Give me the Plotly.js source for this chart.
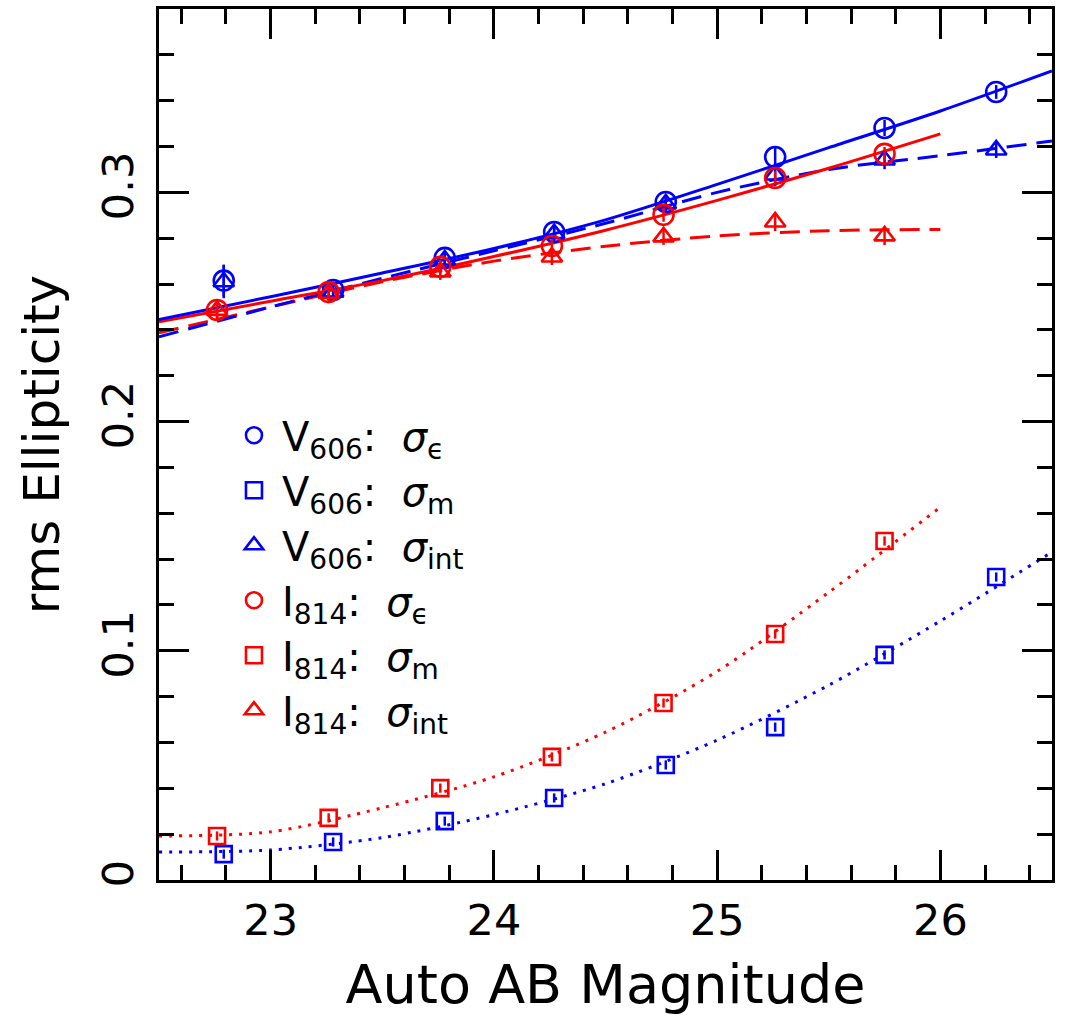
<!DOCTYPE html>
<html>
<head>
<meta charset="utf-8">
<script src="https://cdn.plot.ly/plotly-3.0.1.min.js"></script>
<style>html,body{margin:0;padding:0;background:#fff;}#chart{width:1065px;height:1016px;}</style>
</head>
<body>
<div id="chart"></div>
<script>
// ---- data ----
var magV = [22.79, 23.28, 23.78, 24.27, 24.77, 25.26, 25.75, 26.25];
var magI = [22.76, 23.26, 23.76, 24.26, 24.76, 25.26, 25.75];

var vSigE   = [0.2615, 0.2574, 0.2714, 0.2827, 0.2958, 0.3154, 0.3281, 0.3438];
var vSigEerr= [0.0070, 0.0030, 0.0030, 0.0030, 0.0030, 0.0045, 0.0035, 0.0030];
var vSigM   = [0.0113, 0.0166, 0.0257, 0.0358, 0.0502, 0.0667, 0.0982, 0.1322];
var vSigMerr= [0.0020, 0.0020, 0.0020, 0.0020, 0.0020, 0.0020, 0.0020, 0.0020];
var vSigInt = [0.2610, 0.2565, 0.2705, 0.2820, 0.2950, 0.3076, 0.3141, 0.3185];
var vSigIerr= [0.0072, 0.0035, 0.0035, 0.0035, 0.0035, 0.0050, 0.0040, 0.0035];

var iSigE   = [0.2487, 0.2565, 0.2675, 0.2766, 0.2902, 0.3063, 0.3168];
var iSigEerr= [0.0040, 0.0030, 0.0030, 0.0030, 0.0030, 0.0030, 0.0030];
var iSigM   = [0.0192, 0.0271, 0.0401, 0.0537, 0.0772, 0.1073, 0.1479];
var iSigMerr= [0.0020, 0.0020, 0.0020, 0.0020, 0.0020, 0.0020, 0.0020];
var iSigInt = [0.2485, 0.2560, 0.2653, 0.2718, 0.2806, 0.2871, 0.2810];
var iSigIerr= [0.0040, 0.0035, 0.0035, 0.0035, 0.0035, 0.0040, 0.0040];

// fitted curves
var fitMagV = [22.5, 23.0, 23.5, 24.0, 24.5, 25.0, 25.5, 26.0, 26.5];
var fitMagI = [22.5, 23.0, 23.5, 24.0, 24.5, 25.0, 25.5, 26.0];
var fitVSigE   = [0.2445, 0.2545, 0.2648, 0.2755, 0.2880, 0.3035, 0.3195, 0.3355, 0.3530];
var fitVSigInt = [0.2370, 0.2500, 0.2625, 0.2745, 0.2865, 0.3000, 0.3100, 0.3160, 0.3224];
var fitVSigM   = [0.0122, 0.0131, 0.0185, 0.0285, 0.0420, 0.0610, 0.0850, 0.1130, 0.1431];
var fitISigE   = [0.2435, 0.2525, 0.2615, 0.2720, 0.2835, 0.2965, 0.3105, 0.3255];
var fitISigInt = [0.2387, 0.2500, 0.2610, 0.2700, 0.2765, 0.2810, 0.2833, 0.2838];
var fitISigM   = [0.0192, 0.0210, 0.0315, 0.0450, 0.0645, 0.0910, 0.1255, 0.1627];

var legendNames = [
  'V<sub>606</sub>:  <i>σ</i><sub>ϵ</sub>',
  'V<sub>606</sub>:  <i>σ</i><sub>m</sub>',
  'V<sub>606</sub>:  <i>σ</i><sub>int</sub>',
  'I<sub>814</sub>:  <i>σ</i><sub>ϵ</sub>',
  'I<sub>814</sub>:  <i>σ</i><sub>m</sub>',
  'I<sub>814</sub>:  <i>σ</i><sub>int</sub>'
];
var xTitle = 'Auto AB Magnitude';
var yTitle = 'rms Ellipticity';

var BLUE = '#0000ff', RED = '#ff0000';

function fit(x, y, color, dash) {
  return {x: x, y: y, type: 'scatter', mode: 'lines', showlegend: false, hoverinfo: 'skip',
    line: {color: color, width: 3, dash: dash, shape: 'spline', smoothing: 0.8}};
}
function pts(x, y, err, color, symbol, size, name) {
  return {x: x, y: y, type: 'scatter', mode: 'markers', name: name,
    error_y: {type: 'data', array: err, visible: true, color: color, thickness: 2.5, width: 0},
    marker: {symbol: symbol, size: size, color: color, line: {color: color, width: 2.6}}};
}

var traces = [
  fit(fitMagV, fitVSigM, BLUE, '3px,7px'),
  fit(fitMagI, fitISigM, RED, '3px,7px'),
  fit(fitMagI, fitISigInt, RED, '20px,10px'),
  fit(fitMagV, fitVSigInt, BLUE, '20px,10px'),
  fit(fitMagI, fitISigE, RED, 'solid'),
  fit(fitMagV, fitVSigE, BLUE, 'solid'),
  pts(magV, vSigE, vSigEerr, BLUE, 'circle-open', 20, legendNames[0]),
  pts(magV, vSigM, vSigMerr, BLUE, 'square-open', 16, legendNames[1]),
  pts(magV, vSigInt, vSigIerr, BLUE, 'triangle-up-open', 18, legendNames[2]),
  pts(magI, iSigE, iSigEerr, RED, 'circle-open', 20, legendNames[3]),
  pts(magI, iSigM, iSigMerr, RED, 'square-open', 16, legendNames[4]),
  pts(magI, iSigInt, iSigIerr, RED, 'triangle-up-open', 18, legendNames[5])
];

var FONT = 'DejaVu Sans, sans-serif';
var layout = {
  width: 1065, height: 1016,
  margin: {l: 159, r: 13, t: 9, b: 136},
  paper_bgcolor: '#fff', plot_bgcolor: '#fff',
  font: {family: FONT, color: '#000'},
  showlegend: true,
  legend: {x: 0.075, y: 0.548, xanchor: 'left', yanchor: 'top', bgcolor: 'rgba(0,0,0,0)',
    font: {family: FONT, size: 40, color: '#000'}, tracegroupgap: 0, itemwidth: 46},
  xaxis: {
    range: [22.5, 26.5], showgrid: false, zeroline: false,
    showline: true, linewidth: 3, linecolor: '#000', mirror: 'allticks',
    ticks: 'inside', ticklen: 30, tickwidth: 3, tickcolor: '#000',
    tick0: 0, dtick: 1,
    minor: {ticks: 'inside', dtick: 0.2, tick0: 0, ticklen: 15, tickwidth: 3, tickcolor: '#000', showgrid: false},
    tickfont: {family: FONT, size: 43, color: '#000'},
    title: {text: xTitle, font: {family: FONT, size: 54, color: '#000'}, standoff: 24}
  },
  yaxis: {
    range: [0, 0.38], showgrid: false, zeroline: false,
    showline: true, linewidth: 3, linecolor: '#000', mirror: 'allticks',
    ticks: 'inside', ticklen: 30, tickwidth: 3, tickcolor: '#000',
    tick0: 0, dtick: 0.1, tickangle: -90, ticklabelstandoff: 6,
    minor: {ticks: 'inside', dtick: 0.02, tick0: 0, ticklen: 15, tickwidth: 3, tickcolor: '#000', showgrid: false},
    tickfont: {family: FONT, size: 43, color: '#000'},
    title: {text: yTitle, font: {family: FONT, size: 50, color: '#000'}, standoff: 18}
  }
};

Plotly.newPlot('chart', traces, layout, {displayModeBar: false, staticPlot: true});
</script>
</body>
</html>
